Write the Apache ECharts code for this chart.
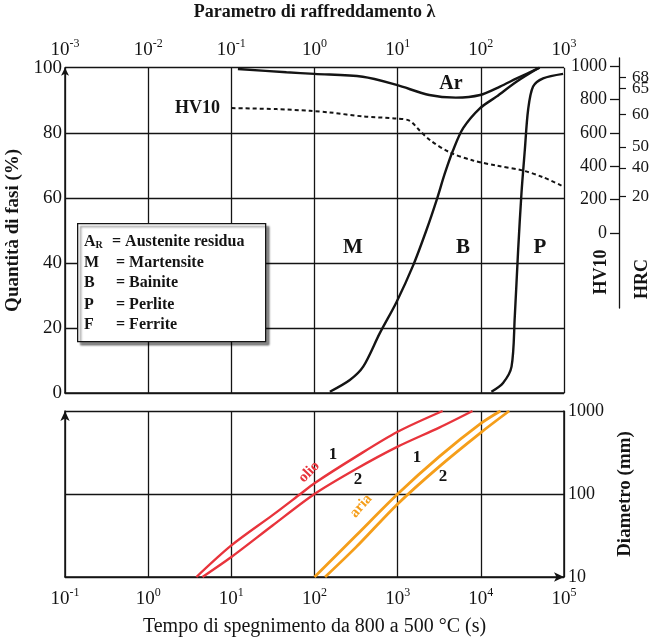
<!DOCTYPE html>
<html>
<head>
<meta charset="utf-8">
<title>ECharts</title>
<script src="https://cdn.jsdelivr.net/npm/echarts@6/dist/echarts.min.js"></script>
</head>
<body style="margin:0">
<div id="main" style="width:672px;height:639px;"></div>
<script type="text/javascript">
// top panel: cooling parameter lambda vs phase amount (%)
var arLambda = [0.12, 0.46, 1.0, 3.8, 9.7, 24, 50, 98, 170, 270, 510];
var arPct    = [99.6, 98.6, 98.1, 97.2, 94.7, 91.6, 90.8, 91.6, 94.2, 96.7, 100];

var bLambda = [1.53, 2.66, 3.85, 6.1, 9.7, 15.4, 22.2, 29.4, 36.9, 46.5, 61.3, 97.3, 154, 268, 500];
var bPct    = [0.4, 4, 8.1, 18.4, 28, 39.3, 50.1, 59.3, 67.5, 74.7, 81.4, 87.5, 91.1, 95.7, 100];

var pLambda = [134, 185, 234, 256, 281, 308, 338, 370, 425, 561, 975];
var pPct    = [0.4, 3.1, 8.1, 23.5, 44, 61.4, 74.7, 87, 94.2, 96.7, 98.1];

// hardness HV10 (dashed)
var hvLambda = [0.101, 0.35, 0.88, 1.53, 3.85, 9.7, 14.0, 18.5, 24.4, 42.4, 80.7, 154, 322, 561, 933];
var hvValue  = [748, 742, 732, 722, 698, 686, 672, 612, 557, 483, 434, 404, 374, 334, 284];

var hvTicks = [0, 200, 400, 600, 800, 1000];
var hrcLabels = [68, 65, 60, 50, 40, 20];
var hrcAtHV   = [930, 868, 710, 515, 390, 220];

// bottom panel: quench time 800-500 C vs diameter
var olio1Time = [3.8, 10, 31.6, 67.6, 100, 316, 1000, 3470];
var olio1Diam = [10, 24, 56, 100, 135, 282, 562, 1000];
var olio2Time = [4.5, 10, 31.6, 100, 316, 1000, 3160, 7940];
var olio2Diam = [10, 17.4, 42, 100, 200, 372, 631, 1000];
var aria1Time = [100, 316, 1000, 3160, 10000, 17200];
var aria1Diam = [10, 31.6, 100, 282, 708, 1000];
var aria2Time = [134, 316, 1000, 3160, 10000, 21900];
var aria2Diam = [10, 22.9, 75.9, 214, 550, 1000];

function pairs(xs, ys) {
    return xs.map(function (x, i) { return [x, ys[i]]; });
}

var FONT = 'Liberation Serif';
var INK = '#141414';
var RED = '#e8343c';
var ORANGE = '#f59e1a';

function powLabel(v) {
    var e = Math.round(Math.log10(v));
    return '{b|10}{s|' + e + '}';
}
var powRich = {
    b: {fontFamily: FONT, fontSize: 19, color: INK, lineHeight: 22, verticalAlign: 'bottom'},
    s: {fontFamily: FONT, fontSize: 12, color: INK, verticalAlign: 'top'}
};
function plain(v) { return String(v); }

// HRC marks sit very close together, so split them over two axes
// (otherwise echarts drops the crowded one)
function hrcAxis(parity) {
    var vals = hrcAtHV.filter(function (v, i) { return i % 2 === parity; });
    return {
        gridIndex: 2, type: 'value', position: 'right', min: -449, max: 1048,
        axisLine: {show: false},
        axisTick: {show: true, length: 6, customValues: vals, lineStyle: {color: INK, width: 1.2}},
        axisLabel: {
            customValues: vals, fontFamily: FONT, fontSize: 17, color: INK, margin: 12,
            showMinLabel: true, showMaxLabel: true,
            formatter: function (v) { return String(hrcLabels[hrcAtHV.indexOf(v)]); }
        },
        splitLine: {show: false}
    };
}

var myChart = echarts.init(document.getElementById('main'));

var option = {
    animation: false,
    grid: [
        {left: 65, width: 499, top: 67.7, height: 325.3, containLabel: false, outerBoundsMode: 'none'},
        {left: 65, width: 499, top: 411, height: 166, containLabel: false, outerBoundsMode: 'none'},
        {left: 619, width: 1, top: 58, height: 250, containLabel: false, outerBoundsMode: 'none'}
    ],
    xAxis: [
        {
            gridIndex: 0, type: 'log', position: 'top', min: 0.001, max: 1000,
            name: 'Parametro di raffreddamento λ', nameLocation: 'middle', nameGap: 46,
            nameTextStyle: {fontFamily: FONT, fontSize: 18, fontWeight: 'bold', color: INK},
            axisLine: {lineStyle: {color: INK, width: 1.5}},
            axisTick: {show: false},
            axisLabel: {formatter: powLabel, rich: powRich, margin: 8},
            splitLine: {show: true, lineStyle: {color: INK, width: 1.3}}
        },
        {
            gridIndex: 1, type: 'log', position: 'bottom', min: 0.1, max: 100000,
            name: 'Tempo di spegnimento da 800 a 500 °C (s)', nameLocation: 'middle', nameGap: 40,
            nameTextStyle: {fontFamily: FONT, fontSize: 20, color: INK},
            axisLine: {lineStyle: {color: INK, width: 1.5}, symbol: ['none', 'arrow'], symbolSize: [7, 10]},
            axisTick: {show: false},
            axisLabel: {formatter: powLabel, rich: powRich, margin: 10},
            splitLine: {show: true, lineStyle: {color: INK, width: 1.3}}
        },
        {gridIndex: 2, type: 'value', show: false}
    ],
    yAxis: [
        {
            gridIndex: 0, type: 'value', min: 0, max: 100, interval: 20,
            name: 'Quantità di fasi (%)', nameLocation: 'middle', nameGap: 36,
            nameTextStyle: {fontFamily: FONT, fontSize: 19, fontWeight: 'bold', color: INK},
            axisLine: {show: true, lineStyle: {color: INK, width: 1.5}, symbol: ['none', 'arrow'], symbolSize: [6, 8]},
            axisTick: {show: false},
            axisLabel: {fontFamily: FONT, fontSize: 19, color: INK, margin: 3},
            splitLine: {show: true, lineStyle: {color: INK, width: 1.3}}
        },
        {gridIndex: 0, type: 'value', min: -958, max: 990, show: false},
        {
            gridIndex: 1, type: 'log', position: 'right', min: 10, max: 1000,
            name: 'Diametro (mm)', nameLocation: 'middle', nameGap: 52, nameRotate: 90,
            nameTextStyle: {fontFamily: FONT, fontSize: 19, fontWeight: 'bold', color: INK},
            axisLine: {show: true, lineStyle: {color: INK, width: 1.5}},
            axisTick: {show: false},
            axisLabel: {formatter: plain, fontFamily: FONT, fontSize: 18, color: INK, margin: 4},
            splitLine: {show: true, lineStyle: {color: INK, width: 1.3}}
        },
        {
            gridIndex: 1, type: 'log', position: 'left', min: 10, max: 1000,
            axisLine: {show: true, lineStyle: {color: INK, width: 1.5}, symbol: ['none', 'arrow'], symbolSize: [7, 10]},
            axisTick: {show: false}, axisLabel: {show: false}, splitLine: {show: false}
        },
        {
            gridIndex: 2, type: 'value', position: 'left', min: -449, max: 1048,
            axisLine: {show: true, lineStyle: {color: INK, width: 1.3}},
            axisTick: {show: true, length: 9, customValues: hvTicks, lineStyle: {color: INK, width: 1.3}},
            axisLabel: {customValues: hvTicks, formatter: plain, fontFamily: FONT, fontSize: 18, color: INK,
                margin: 12, showMinLabel: true, showMaxLabel: true},
            splitLine: {show: false}
        },
        hrcAxis(0),
        hrcAxis(1)
    ],
    series: [
        {name: 'Ar', type: 'line', xAxisIndex: 0, yAxisIndex: 0, data: pairs(arLambda, arPct),
            smooth: 0.3, showSymbol: false, lineStyle: {color: INK, width: 2.4}},
        {name: 'B', type: 'line', xAxisIndex: 0, yAxisIndex: 0, data: pairs(bLambda, bPct),
            smooth: 0.3, showSymbol: false, lineStyle: {color: INK, width: 2.4}},
        {name: 'P', type: 'line', xAxisIndex: 0, yAxisIndex: 0, data: pairs(pLambda, pPct),
            smooth: 0.3, showSymbol: false, lineStyle: {color: INK, width: 2.4}},
        {name: 'HV10', type: 'line', xAxisIndex: 0, yAxisIndex: 1, data: pairs(hvLambda, hvValue),
            smooth: 0.3, showSymbol: false, lineStyle: {color: INK, width: 2, type: [4, 3]}},
        {name: 'olio 1', type: 'line', xAxisIndex: 1, yAxisIndex: 2, data: pairs(olio1Time, olio1Diam),
            smooth: 0.3, showSymbol: false, lineStyle: {color: RED, width: 2.4}},
        {name: 'olio 2', type: 'line', xAxisIndex: 1, yAxisIndex: 2, data: pairs(olio2Time, olio2Diam),
            smooth: 0.3, showSymbol: false, lineStyle: {color: RED, width: 2.4}},
        {name: 'aria 1', type: 'line', xAxisIndex: 1, yAxisIndex: 2, data: pairs(aria1Time, aria1Diam),
            smooth: 0.3, showSymbol: false, lineStyle: {color: ORANGE, width: 2.8}},
        {name: 'aria 2', type: 'line', xAxisIndex: 1, yAxisIndex: 2, data: pairs(aria2Time, aria2Diam),
            smooth: 0.3, showSymbol: false, lineStyle: {color: ORANGE, width: 2.8}}
    ],
    graphic: [
        // phase legend box
        {type: 'rect', z: 100, left: 77, top: 223, shape: {width: 188, height: 118},
            style: {fill: '#fff', stroke: INK, lineWidth: 1.3, shadowColor: 'rgba(0,0,0,0.45)', shadowOffsetX: 3, shadowOffsetY: 3, shadowBlur: 2}},
        {type: 'text', z: 101, x: 84, y: 242, style: {text: '{a|A}{r|R}', rich: {a: {fontFamily: FONT, fontSize: 16, fontWeight: 'bold', fill: INK}, r: {fontFamily: FONT, fontSize: 10, fontWeight: 'bold', fill: INK, verticalAlign: 'bottom'}}, verticalAlign: 'middle'}},
        {type: 'text', z: 101, x: 112, y: 242, style: {text: '= Austenite residua', font: 'bold 16px ' + FONT, fill: INK, verticalAlign: 'middle'}},
        {type: 'text', z: 101, x: 84, y: 262.5, style: {text: 'M', font: 'bold 16px ' + FONT, fill: INK, verticalAlign: 'middle'}},
        {type: 'text', z: 101, x: 116, y: 262.5, style: {text: '= Martensite', font: 'bold 16px ' + FONT, fill: INK, verticalAlign: 'middle'}},
        {type: 'text', z: 101, x: 84, y: 283, style: {text: 'B', font: 'bold 16px ' + FONT, fill: INK, verticalAlign: 'middle'}},
        {type: 'text', z: 101, x: 116, y: 283, style: {text: '= Bainite', font: 'bold 16px ' + FONT, fill: INK, verticalAlign: 'middle'}},
        {type: 'text', z: 101, x: 84, y: 305, style: {text: 'P', font: 'bold 16px ' + FONT, fill: INK, verticalAlign: 'middle'}},
        {type: 'text', z: 101, x: 116, y: 305, style: {text: '= Perlite', font: 'bold 16px ' + FONT, fill: INK, verticalAlign: 'middle'}},
        {type: 'text', z: 101, x: 84, y: 325, style: {text: 'F', font: 'bold 16px ' + FONT, fill: INK, verticalAlign: 'middle'}},
        {type: 'text', z: 101, x: 116, y: 325, style: {text: '= Ferrite', font: 'bold 16px ' + FONT, fill: INK, verticalAlign: 'middle'}},
        // region labels
        {type: 'text', z: 101, x: 451, y: 84, style: {text: 'Ar', font: 'bold 20px ' + FONT, fill: INK, align: 'center', verticalAlign: 'middle'}},
        {type: 'text', z: 101, x: 220, y: 108, style: {text: 'HV10', font: 'bold 18px ' + FONT, fill: INK, align: 'right', verticalAlign: 'middle'}},
        {type: 'text', z: 101, x: 353, y: 248, style: {text: 'M', font: 'bold 21px ' + FONT, fill: INK, align: 'center', verticalAlign: 'middle'}},
        {type: 'text', z: 101, x: 463, y: 248, style: {text: 'B', font: 'bold 21px ' + FONT, fill: INK, align: 'center', verticalAlign: 'middle'}},
        {type: 'text', z: 101, x: 540, y: 248, style: {text: 'P', font: 'bold 21px ' + FONT, fill: INK, align: 'center', verticalAlign: 'middle'}},
        {type: 'text', z: 101, x: 601, y: 272, rotation: Math.PI / 2, style: {text: 'HV10', font: 'bold 18px ' + FONT, fill: INK, align: 'center', verticalAlign: 'middle'}},
        {type: 'text', z: 101, x: 642, y: 279, rotation: Math.PI / 2, style: {text: 'HRC', font: 'bold 18px ' + FONT, fill: INK, align: 'center', verticalAlign: 'middle'}},
        // bottom panel curve labels
        {type: 'text', z: 101, x: 333, y: 455, style: {text: '1', font: 'bold 17px ' + FONT, fill: INK, align: 'center', verticalAlign: 'middle'}},
        {type: 'text', z: 101, x: 358, y: 480, style: {text: '2', font: 'bold 17px ' + FONT, fill: INK, align: 'center', verticalAlign: 'middle'}},
        {type: 'text', z: 101, x: 417, y: 458, style: {text: '1', font: 'bold 17px ' + FONT, fill: INK, align: 'center', verticalAlign: 'middle'}},
        {type: 'text', z: 101, x: 443, y: 477, style: {text: '2', font: 'bold 17px ' + FONT, fill: INK, align: 'center', verticalAlign: 'middle'}},
        {type: 'text', z: 101, x: 309, y: 472, rotation: 0.8, style: {text: 'olio', font: 'bold 15px ' + FONT, fill: RED, align: 'center', verticalAlign: 'middle'}},
        {type: 'text', z: 101, x: 361, y: 506, rotation: 0.85, style: {text: 'aria', font: 'bold 15px ' + FONT, fill: ORANGE, align: 'center', verticalAlign: 'middle'}}
    ]
};

myChart.setOption(option);
</script>
</body>
</html>
